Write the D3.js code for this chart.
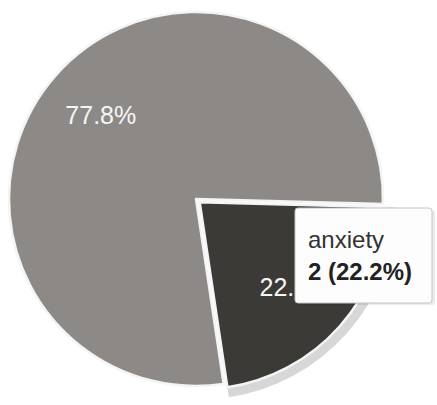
<!DOCTYPE html>
<html>
<head>
<meta charset="utf-8">
<script src="https://cdn.jsdelivr.net/npm/d3@7"></script>
<style>
  body { margin: 0; background: #fff; }
  svg { display: block; font-family: "Liberation Sans", Arial, sans-serif; }
</style>
</head>
<body>
<svg class="canvas"></svg>
<script>
// chart data
var categories = ["no anxiety", "anxiety"];
var counts = [7, 2];
var colors = ["#8d8987", "#3c3a37"];
var hovered = "anxiety";

var dwidth = 437, dheight = 405;
var cx = 196, cy = 199, rad = 187;
var rot = 1.5 * Math.PI / 180;

var canv = d3.select(".canvas").attr("width", dwidth).attr("height", dheight);

var slices = categories.map(function(c, i) { return {name: c, value: counts[i], col: colors[i]}; });
var total = d3.sum(counts);

// dark slice starts at 3 o'clock
var pie = d3.pie().sort(null).value(function(d) { return d.value; })
  .startAngle(-1.5 * Math.PI + rot + 2 * Math.PI * counts[1] / total)
  .endAngle(0.5 * Math.PI + rot + 2 * Math.PI * counts[1] / total);
var arcs = pie(slices);

var arcGen = d3.arc().innerRadius(0).outerRadius(rad);
var haloGen = d3.arc().innerRadius(rad).outerRadius(rad + 10);
var labelArc = d3.arc().innerRadius(rad * 0.68).outerRadius(rad * 0.68);

var g = canv.append("g").attr("transform", "translate(" + cx + "," + cy + ")");

function shift(d) {
  if (d.data.name !== hovered) return [0, 0];
  var a = (d.startAngle + d.endAngle) / 2;
  return [5 * Math.sin(a), -5 * Math.cos(a)];
}

var sl = g.selectAll("g.slice").data(arcs).enter().append("g")
  .attr("class", "slice")
  .attr("transform", function(d) { var s = shift(d); return "translate(" + s[0] + "," + s[1] + ")"; });

sl.filter(function(d) { return d.data.name === hovered; })
  .append("path")
  .attr("d", haloGen)
  .style("fill", "#c9c9c9")
  .style("opacity", 0.75);

sl.append("path")
  .attr("d", arcGen)
  .style("fill", function(d) { return d.data.col; })
  .style("stroke", "#f4f4f4")
  .style("stroke-width", 2.5)
  .style("stroke-linejoin", "round");

sl.append("text")
  .attr("transform", function(d) { var p = labelArc.centroid(d); return "translate(" + p[0] + "," + p[1] + ")"; })
  .attr("dy", "0.36em")
  .style("text-anchor", "middle")
  .style("font-size", "25px")
  .style("fill", "#f6f6f6")
  .text(function(d) { return (100 * d.value / total).toFixed(1) + "%"; });

// tooltip
var hd = arcs.filter(function(d) { return d.data.name === hovered; })[0];
var tip = canv.append("g").attr("transform", "translate(295,208)");
tip.append("rect")
  .attr("x", 2).attr("y", 2).attr("width", 138).attr("height", 95).attr("rx", 3)
  .style("fill", "#000").style("opacity", 0.08);
tip.append("rect")
  .attr("width", 137).attr("height", 95).attr("rx", 3)
  .style("fill", "#fdfdfd").style("stroke", "#c4c4c4").style("stroke-width", 1);
tip.append("text").attr("x", 13).attr("y", 40)
  .style("font-size", "24px").style("fill", "#333")
  .text(hd.data.name);
tip.append("text").attr("x", 13).attr("y", 72)
  .style("font-size", "24px").style("font-weight", "bold").style("fill", "#222")
  .text(hd.data.value + " (" + (100 * hd.data.value / total).toFixed(1) + "%)");
</script>
</body>
</html>
